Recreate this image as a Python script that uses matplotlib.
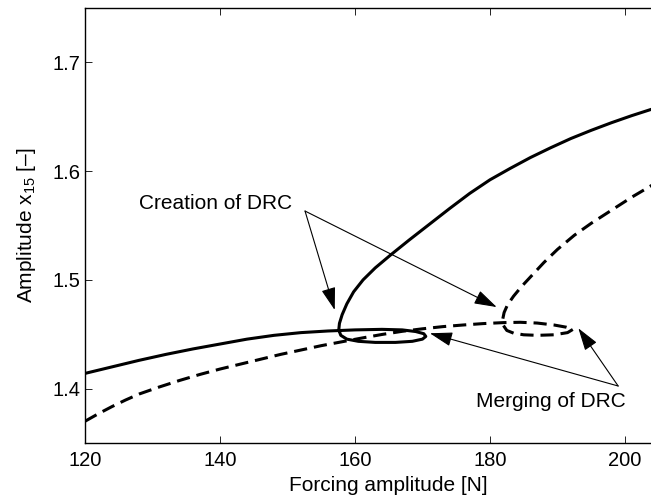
#Plotting DRC branches
#forcing amplitude vs amplitude of dof 15

import matplotlib.pyplot as plt

plt.rcParams['font.family'] = ['Liberation Sans', 'DejaVu Sans']
plt.rcParams['mathtext.fontset'] = 'custom'
plt.rcParams['mathtext.rm'] = 'Liberation Sans'
plt.rcParams['lines.scale_dashes'] = False

# solid branch
solid_force = [120, 124, 128, 132, 136, 140, 144, 148, 152, 156, 160, 164, 167, 169,
               170.2, 170.5, 170.0, 168.5, 166, 163, 160.5, 158.8, 157.9, 157.6, 157.7,
               158.1, 158.8, 159.8, 161.2, 163, 165.3, 168, 171, 174, 177, 180, 183,
               186, 189, 192, 195, 198, 201, 204]
solid_amp = [1.414, 1.420, 1.426, 1.4315, 1.4365, 1.441, 1.4455, 1.449, 1.4515, 1.453,
             1.454, 1.4545, 1.454, 1.4525, 1.4505, 1.448, 1.4455, 1.4435, 1.4425, 1.4425,
             1.4435, 1.4455, 1.449, 1.454, 1.460, 1.468, 1.478, 1.489, 1.500, 1.511,
             1.523, 1.5365, 1.551, 1.5655, 1.5795, 1.592, 1.6025, 1.6125, 1.6215, 1.630,
             1.6375, 1.6445, 1.651, 1.657]

# dashed branch
dashed_force = [120, 122, 124, 126, 128, 131, 134, 137, 140, 143, 146, 149, 152, 155,
                158, 161, 164, 167, 170, 173, 176, 179, 182, 184.5, 187, 189.5, 191.3,
                192.3, 191.5, 189.5, 187, 185, 183.5, 182.5, 182.0, 181.9, 182.1, 182.6,
                183.5, 184.7, 186.2, 188, 190, 192.5, 195, 198, 201, 204]
dashed_amp = [1.370, 1.377, 1.3835, 1.3895, 1.395, 1.4015, 1.4075, 1.413, 1.418, 1.4225,
              1.427, 1.4315, 1.4355, 1.4395, 1.443, 1.4465, 1.4498, 1.4527, 1.455, 1.457,
              1.4585, 1.4598, 1.4607, 1.461, 1.4603, 1.4585, 1.4565, 1.4545, 1.4515,
              1.4495, 1.449, 1.4495, 1.451, 1.4535, 1.458, 1.464, 1.470, 1.477, 1.485,
              1.494, 1.504, 1.516, 1.528, 1.541, 1.552, 1.564, 1.576, 1.587]

xticks = [120, 140, 160, 180, 200]
yticks = [1.4, 1.5, 1.6, 1.7]

# annotations: text, text position, arrow start, arrow tips
creation_label = 'Creation of DRC'
creation_pos = (139.4, 1.570)
creation_from = (152.6, 1.5633)
creation_tips = [(157.0, 1.4723), (181.0, 1.475)]
merging_label = 'Merging of DRC'
merging_pos = (189.1, 1.3886)
merging_from = (199.0, 1.4024)
merging_tips = [(171.1, 1.4509), (193.1, 1.4555)]

fig = plt.figure(figsize=(6.51, 5.0), dpi=100)
# axes runs past the right edge of the figure (picture is cropped there)
ax = fig.add_axes([0.1306, 0.114, 0.933, 0.87])

ax.plot(solid_force, solid_amp, color='k', lw=2.2, solid_capstyle='butt')
ax.plot(dashed_force, dashed_amp, color='k', lw=2.2, dashes=(9.5, 5))

ax.set_xlim(120, 210)
ax.set_ylim(1.35, 1.75)
ax.set_xticks(xticks)
ax.set_yticks(yticks)
ax.tick_params(direction='in', top=True, right=True, length=5, width=0.6,
               labelsize=14.5)
ax.tick_params(axis='x', pad=6)
ax.tick_params(axis='y', pad=3)
for s in ax.spines.values():
    s.set_linewidth(1.0)

ax.set_xlabel('Forcing amplitude [N]', fontsize=15, labelpad=4)
ax.set_ylabel('Amplitude x$_\\mathregular{15}$ [\u2013]', fontsize=15, labelpad=11)

arrow = dict(arrowstyle='-|>,head_length=0.7,head_width=0.22', lw=0.8, color='k',
             mutation_scale=20, shrinkA=0, shrinkB=0)
ax.text(creation_pos[0], creation_pos[1], creation_label, fontsize=15,
        ha='center', va='center')
for tip in creation_tips:
    ax.annotate('', xy=tip, xytext=creation_from, arrowprops=arrow)
ax.text(merging_pos[0], merging_pos[1], merging_label, fontsize=15,
        ha='center', va='center')
for tip in merging_tips:
    ax.annotate('', xy=tip, xytext=merging_from, arrowprops=arrow)

fig.savefig('out.png', dpi=100)
